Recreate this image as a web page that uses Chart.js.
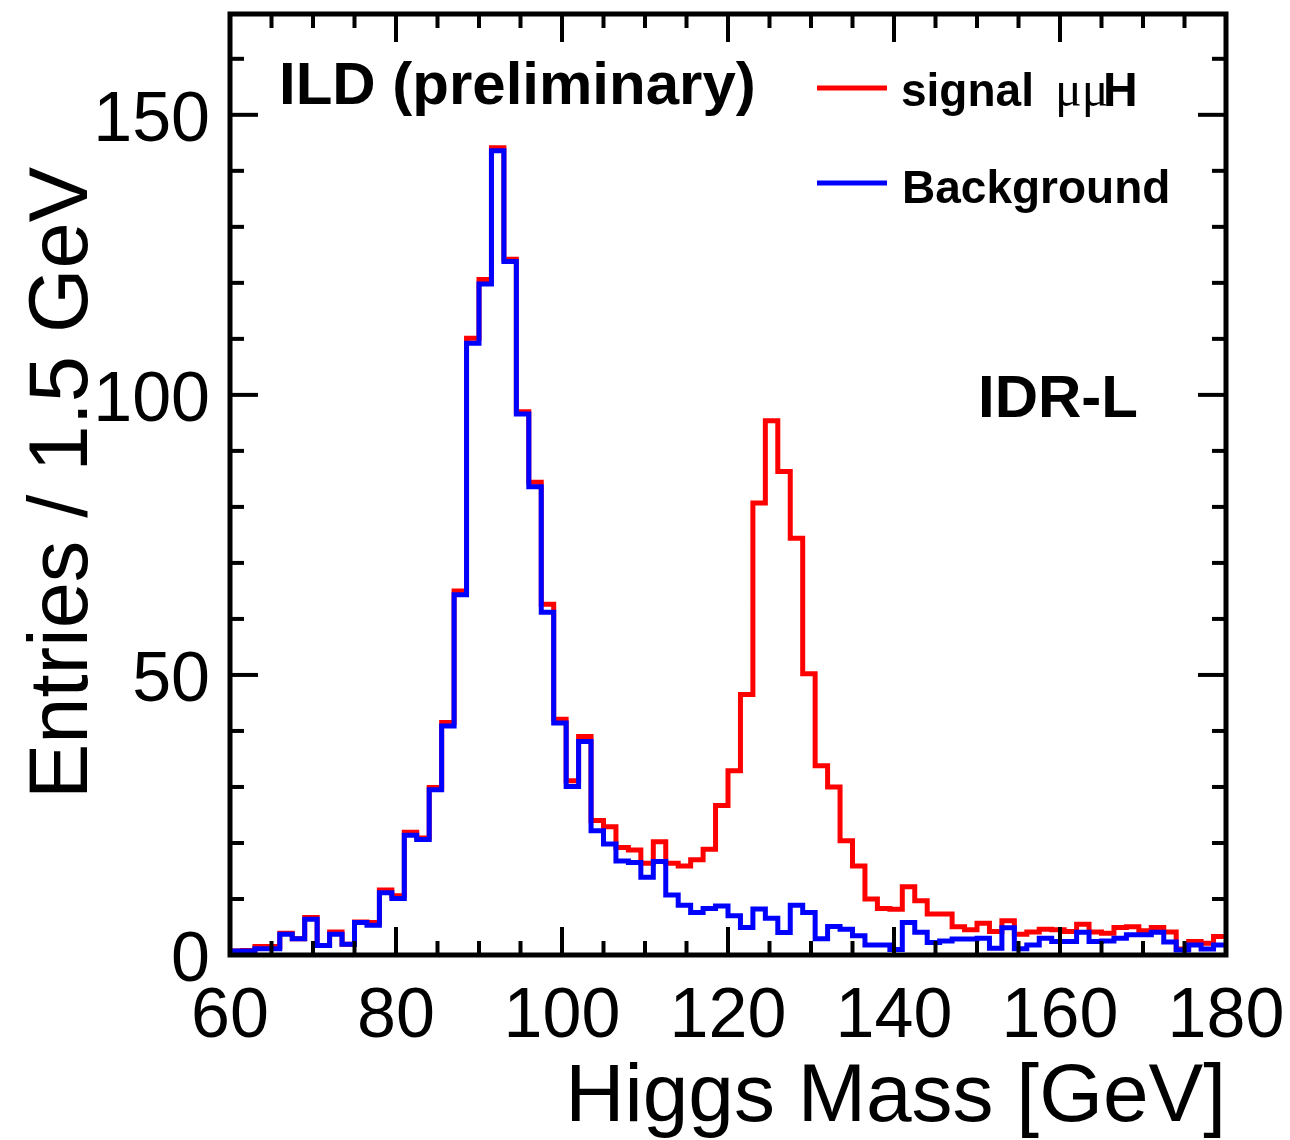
<!DOCTYPE html>
<html><head><meta charset="utf-8">
<script src="https://cdn.jsdelivr.net/npm/chart.js@4.4.1/dist/chart.umd.min.js"></script>
<style>html,body{margin:0;padding:0;background:#fff}#wrap{width:1290px;height:1140px;position:relative}</style>
</head><body><div id="wrap"><canvas id="c" width="1290" height="1140"></canvas></div>
<script>
// ---- data ----
const binLow = 60, binWidth = 1.5;            // 80 bins of 1.5 GeV from 60 to 180
const xTicks = [60, 80, 100, 120, 140, 160, 180];
const yTicks = [0, 50, 100, 150];
const xMinorStep = 5, yMinorStep = 10;
const xRange = [60, 180], yRange = [0, 168];
const seriesNames = ['signal', 'Background'];
const signalPlusBkg = [
 0.7,0.8,1.5,1.5,3.9,2.9,6.7,1.7,4.1,1.9,
 5.9,5.8,11.6,10.6,21.9,20.9,29.9,41.5,65.0,110.1,
 120.6,144.1,124.2,97.0,84.4,62.6,42.1,31.1,39.0,24.0,
 22.9,19.2,18.75,16.4,20.2,16.4,15.9,17.0,18.9,26.7,
 32.9,46.5,80.7,95.4,86.3,74.4,50.2,33.8,30.0,20.4,
 15.9,10.0,8.3,8.15,12.2,9.7,7.3,7.3,5.05,4.5,
 5.65,4.2,6.1,3.7,4.1,4.6,4.5,4.2,5.5,4.1,
 3.9,4.9,5.05,4.35,4.9,4.1,1.07,2.4,2.1,3.3];
const background = [
 0.7,0.7,1.1,1.1,3.7,2.9,6.4,1.7,3.7,1.9,
 5.8,5.3,11.1,10.1,21.4,20.6,29.5,40.9,64.3,109.2,
 119.8,143.6,123.8,96.6,83.6,61.2,41.4,30.1,38.1,22.2,
 19.8,16.8,16.5,13.9,16.7,10.7,8.9,7.6,8.3,8.75,
 7.0,4.9,8.2,6.55,4.0,8.9,7.6,2.9,5.1,4.6,
 3.45,1.8,1.8,1.0,5.8,4.05,2.25,2.5,2.85,2.85,
 3.0,1.2,4.85,1.1,1.8,3.0,2.4,2.4,4.05,2.4,
 2.5,3.0,3.6,3.6,4.05,2.3,0.9,1.8,1.07,1.8];

function toSteps(values){
  const pts = values.map((v,i)=>({x: binLow + i*binWidth, y: v}));
  pts.push({x: binLow + values.length*binWidth, y: values[values.length-1]});
  return pts;
}

const SANS = '"Liberation Sans", Arial, Helvetica, sans-serif';

const decor = {
  id: 'decor',
  afterDraw(chart){
    const {ctx, chartArea:a, scales:{x, y}} = chart;
    ctx.save();
    ctx.strokeStyle = '#000'; ctx.fillStyle = '#000';
    const seg = (x1,y1,x2,y2)=>{ctx.beginPath();ctx.moveTo(x1,y1);ctx.lineTo(x2,y2);ctx.stroke();};
    // ticks
    ctx.lineWidth = 4;
    for (let v = xRange[0]; v <= xRange[1]; v += xMinorStep){
      const px = x.getPixelForValue(v);
      const L = xTicks.includes(v) ? 28 : 14;
      seg(px, a.bottom, px, a.bottom - L);
      seg(px, a.top, px, a.top + L);
    }
    for (let v = yRange[0]; v <= yRange[1]; v += yMinorStep){
      const py = y.getPixelForValue(v);
      const L = yTicks.includes(v) ? 28 : 14;
      seg(a.left, py, a.left + L, py);
      seg(a.right, py, a.right - L, py);
    }
    // frame
    ctx.lineWidth = 5;
    ctx.strokeRect(a.left, a.top, a.right - a.left, a.bottom - a.top);
    // tick labels
    ctx.font = '70px ' + SANS;
    ctx.textBaseline = 'alphabetic';
    ctx.textAlign = 'center';
    xTicks.forEach(v => ctx.fillText(String(v), x.getPixelForValue(v), a.bottom + 82));
    ctx.textAlign = 'right';
    yTicks.forEach(v => ctx.fillText(String(v), a.left - 20, y.getPixelForValue(v) + 26));
    // axis titles
    ctx.font = '82px ' + SANS;
    ctx.textAlign = 'right';
    ctx.fillText('Higgs Mass [GeV]', a.right, 1121);
    ctx.save();
    ctx.translate(87, 167);
    ctx.rotate(-Math.PI/2);
    ctx.textAlign = 'right';
    ctx.font = '83px ' + SANS;
    ctx.fillText('Entries / 1.5 GeV', 0, 0);
    ctx.restore();
    // labels
    ctx.textAlign = 'left';
    ctx.font = 'bold 60px ' + SANS;
    ctx.fillText('ILD (preliminary)', 279, 104);
    ctx.fillText('IDR-L', 978, 417);
    // legend
    const ds = chart.data.datasets;
    const rows = [{d: ds[1], y: 88}, {d: ds[0], y: 183}];
    rows.forEach(r => {
      ctx.strokeStyle = r.d.borderColor; ctx.lineWidth = 5;
      seg(817, r.y, 887, r.y);
    });
    ctx.fillStyle = '#000';
    ctx.font = 'bold 46px ' + SANS;
    ctx.fillText(seriesNames[0], 901, 106);
    ctx.font = '50px "Liberation Serif", "DejaVu Serif", serif';
    ctx.fillText('μμ', 1055, 106);
    ctx.font = 'bold 48px ' + SANS;
    ctx.fillText('H', 1103, 106);
    ctx.font = 'bold 46px ' + SANS;
    ctx.fillText(seriesNames[1], 902, 203);
    ctx.restore();
  }
};

new Chart(document.getElementById('c'), {
  type: 'line',
  data: {
    datasets: [
      { label: 'Background', data: toSteps(background), borderColor: '#0000ff', borderWidth: 5,
        stepped: 'before', pointRadius: 0, fill: false, order: 1 },
      { label: 'signal μμH', data: toSteps(signalPlusBkg), borderColor: '#ff0000', borderWidth: 5,
        stepped: 'before', pointRadius: 0, fill: false, order: 2 }
    ]
  },
  options: {
    responsive: false, animation: false, devicePixelRatio: 1,
    layout: { padding: { left: 230, right: 64, top: 14, bottom: 185 } },
    plugins: { legend: { display: false }, tooltip: { enabled: false } },
    scales: {
      x: { type: 'linear', min: xRange[0], max: xRange[1], display: false },
      y: { type: 'linear', min: yRange[0], max: yRange[1], display: false }
    }
  },
  plugins: [decor]
});
</script></body></html>
